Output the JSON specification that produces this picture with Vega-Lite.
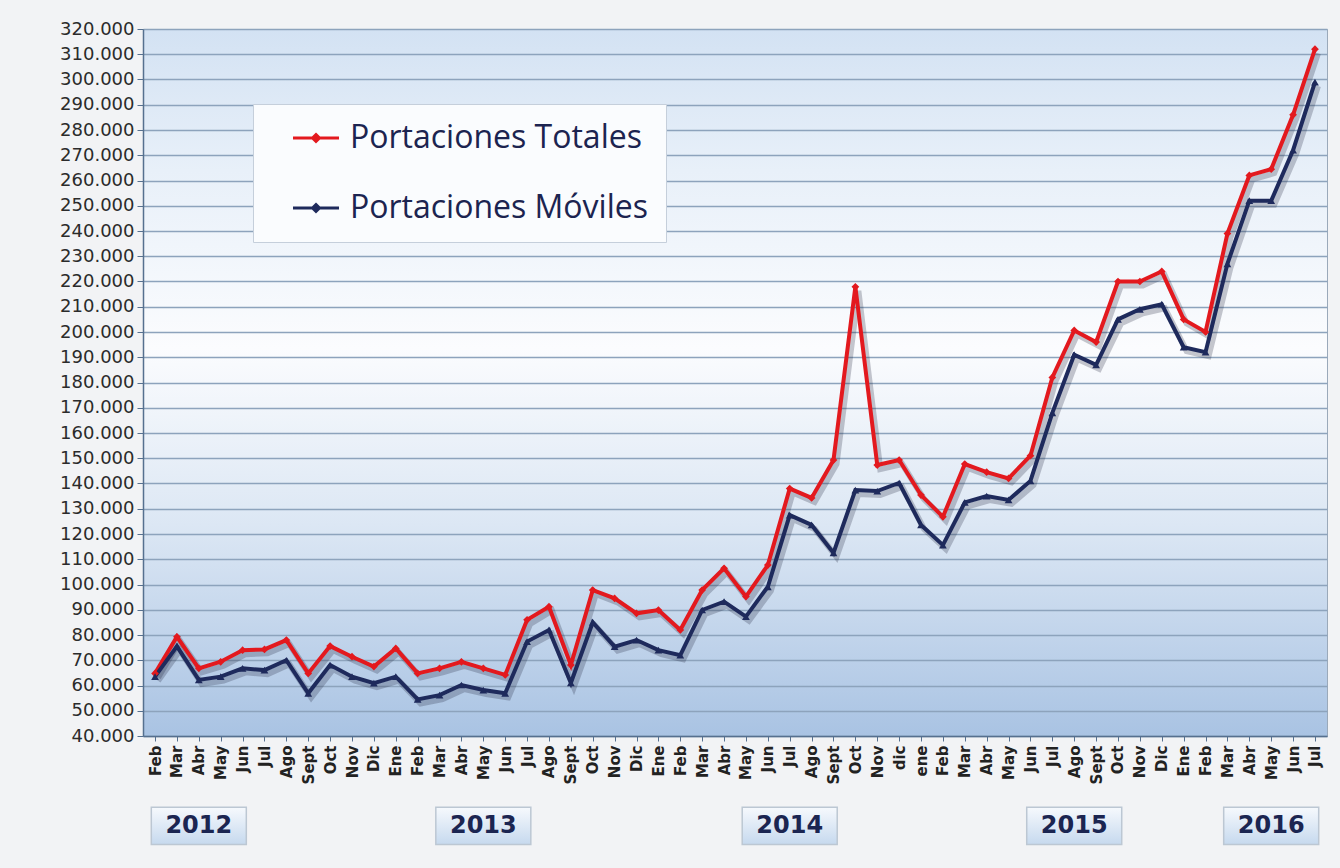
{
  "$schema": "https://vega.github.io/schema/vega-lite/v6.json",
  "autosize": {"type": "none"},
  "width": 1184,
  "height": 707,
  "padding": {"left": 143, "top": 29, "right": 13, "bottom": 132},
  "background": "#f2f3f5",
  "config": {
    "font": "DejaVu Sans",
    "view": {
      "stroke": "#9aa9ba",
      "strokeWidth": 1,
      "fill": {
        "gradient": "linear", "x1": 0, "y1": 0, "x2": 0, "y2": 1,
        "stops": [
          {"offset": 0, "color": "#d3e2f3"},
          {"offset": 0.2, "color": "#e8f0f9"},
          {"offset": 0.45, "color": "#fbfcfe"},
          {"offset": 0.7, "color": "#dce7f4"},
          {"offset": 1, "color": "#a9c3e3"}
        ]
      }
    },
    "axisY": {
      "tickCount": 28,
      "labelExpr": "replace(format(datum.value, ','), ',', '.')",
      "labelOverlap": false,
      "labelFont": "DejaVu Sans",
      "labelFontSize": 18,
      "labelColor": "#2b2b2b",
      "labelPadding": 3,
      "tickColor": "#56708f",
      "tickSize": 6,
      "domainColor": "#56708f",
      "domainWidth": 1.5,
      "grid": true,
      "gridColor": "#8da3bc",
      "gridWidth": 1.5
    }
  },
  "datasets": {
    "serie": [
      {"k": "Feb 2012", "serie": "Portaciones Totales", "valor": 64800},
      {"k": "Mar 2012", "serie": "Portaciones Totales", "valor": 79300},
      {"k": "Abr 2012", "serie": "Portaciones Totales", "valor": 66800},
      {"k": "May 2012", "serie": "Portaciones Totales", "valor": 69400},
      {"k": "Jun 2012", "serie": "Portaciones Totales", "valor": 74000},
      {"k": "Jul 2012", "serie": "Portaciones Totales", "valor": 74300},
      {"k": "Ago 2012", "serie": "Portaciones Totales", "valor": 78000},
      {"k": "Sept 2012", "serie": "Portaciones Totales", "valor": 64800},
      {"k": "Oct 2012", "serie": "Portaciones Totales", "valor": 75600},
      {"k": "Nov 2012", "serie": "Portaciones Totales", "valor": 71400},
      {"k": "Dic 2012", "serie": "Portaciones Totales", "valor": 67500},
      {"k": "Ene 2013", "serie": "Portaciones Totales", "valor": 74700},
      {"k": "Feb 2013", "serie": "Portaciones Totales", "valor": 64800},
      {"k": "Mar 2013", "serie": "Portaciones Totales", "valor": 66800},
      {"k": "Abr 2013", "serie": "Portaciones Totales", "valor": 69400},
      {"k": "May 2013", "serie": "Portaciones Totales", "valor": 66800},
      {"k": "Jun 2013", "serie": "Portaciones Totales", "valor": 64200},
      {"k": "Jul 2013", "serie": "Portaciones Totales", "valor": 86000},
      {"k": "Ago 2013", "serie": "Portaciones Totales", "valor": 91200},
      {"k": "Sept 2013", "serie": "Portaciones Totales", "valor": 68100},
      {"k": "Oct 2013", "serie": "Portaciones Totales", "valor": 97800},
      {"k": "Nov 2013", "serie": "Portaciones Totales", "valor": 94500},
      {"k": "Dic 2013", "serie": "Portaciones Totales", "valor": 88600},
      {"k": "Ene 2014", "serie": "Portaciones Totales", "valor": 89900},
      {"k": "Feb 2014", "serie": "Portaciones Totales", "valor": 82000},
      {"k": "Mar 2014", "serie": "Portaciones Totales", "valor": 97800},
      {"k": "Abr 2014", "serie": "Portaciones Totales", "valor": 106400},
      {"k": "May 2014", "serie": "Portaciones Totales", "valor": 95200},
      {"k": "Jun 2014", "serie": "Portaciones Totales", "valor": 107700},
      {"k": "Jul 2014", "serie": "Portaciones Totales", "valor": 138000},
      {"k": "Ago 2014", "serie": "Portaciones Totales", "valor": 134300},
      {"k": "Sept 2014", "serie": "Portaciones Totales", "valor": 149300},
      {"k": "Oct 2014", "serie": "Portaciones Totales", "valor": 217900},
      {"k": "Nov 2014", "serie": "Portaciones Totales", "valor": 147300},
      {"k": "dic 2014", "serie": "Portaciones Totales", "valor": 149300},
      {"k": "ene 2015", "serie": "Portaciones Totales", "valor": 135400},
      {"k": "Feb 2015", "serie": "Portaciones Totales", "valor": 126800},
      {"k": "Mar 2015", "serie": "Portaciones Totales", "valor": 147700},
      {"k": "Abr 2015", "serie": "Portaciones Totales", "valor": 144500},
      {"k": "May 2015", "serie": "Portaciones Totales", "valor": 142000},
      {"k": "Jun 2015", "serie": "Portaciones Totales", "valor": 151000},
      {"k": "Jul 2015", "serie": "Portaciones Totales", "valor": 182000},
      {"k": "Ago 2015", "serie": "Portaciones Totales", "valor": 200600},
      {"k": "Sept 2015", "serie": "Portaciones Totales", "valor": 196000},
      {"k": "Oct 2015", "serie": "Portaciones Totales", "valor": 220000},
      {"k": "Nov 2015", "serie": "Portaciones Totales", "valor": 220000},
      {"k": "Dic 2015", "serie": "Portaciones Totales", "valor": 224000},
      {"k": "Ene 2016", "serie": "Portaciones Totales", "valor": 205000},
      {"k": "Feb 2016", "serie": "Portaciones Totales", "valor": 200000},
      {"k": "Mar 2016", "serie": "Portaciones Totales", "valor": 239000},
      {"k": "Abr 2016", "serie": "Portaciones Totales", "valor": 262000},
      {"k": "May 2016", "serie": "Portaciones Totales", "valor": 264500},
      {"k": "Jun 2016", "serie": "Portaciones Totales", "valor": 286000},
      {"k": "Jul 2016", "serie": "Portaciones Totales", "valor": 312000},
      {"k": "Feb 2012", "serie": "Portaciones Móviles", "valor": 63500},
      {"k": "Mar 2012", "serie": "Portaciones Móviles", "valor": 75500},
      {"k": "Abr 2012", "serie": "Portaciones Móviles", "valor": 62200},
      {"k": "May 2012", "serie": "Portaciones Móviles", "valor": 63500},
      {"k": "Jun 2012", "serie": "Portaciones Móviles", "valor": 66800},
      {"k": "Jul 2012", "serie": "Portaciones Móviles", "valor": 66100},
      {"k": "Ago 2012", "serie": "Portaciones Móviles", "valor": 70000},
      {"k": "Sept 2012", "serie": "Portaciones Móviles", "valor": 56900},
      {"k": "Oct 2012", "serie": "Portaciones Móviles", "valor": 68100},
      {"k": "Nov 2012", "serie": "Portaciones Móviles", "valor": 63500},
      {"k": "Dic 2012", "serie": "Portaciones Móviles", "valor": 60900},
      {"k": "Ene 2013", "serie": "Portaciones Móviles", "valor": 63500},
      {"k": "Feb 2013", "serie": "Portaciones Móviles", "valor": 54500},
      {"k": "Mar 2013", "serie": "Portaciones Móviles", "valor": 56200},
      {"k": "Abr 2013", "serie": "Portaciones Móviles", "valor": 60200},
      {"k": "May 2013", "serie": "Portaciones Móviles", "valor": 58200},
      {"k": "Jun 2013", "serie": "Portaciones Móviles", "valor": 56900},
      {"k": "Jul 2013", "serie": "Portaciones Móviles", "valor": 77400},
      {"k": "Ago 2013", "serie": "Portaciones Móviles", "valor": 82000},
      {"k": "Sept 2013", "serie": "Portaciones Móviles", "valor": 61000},
      {"k": "Oct 2013", "serie": "Portaciones Móviles", "valor": 85000},
      {"k": "Nov 2013", "serie": "Portaciones Móviles", "valor": 75400},
      {"k": "Dic 2013", "serie": "Portaciones Móviles", "valor": 78000},
      {"k": "Ene 2014", "serie": "Portaciones Móviles", "valor": 74000},
      {"k": "Feb 2014", "serie": "Portaciones Móviles", "valor": 72000},
      {"k": "Mar 2014", "serie": "Portaciones Móviles", "valor": 89900},
      {"k": "Abr 2014", "serie": "Portaciones Móviles", "valor": 93200},
      {"k": "May 2014", "serie": "Portaciones Móviles", "valor": 87300},
      {"k": "Jun 2014", "serie": "Portaciones Móviles", "valor": 99100},
      {"k": "Jul 2014", "serie": "Portaciones Móviles", "valor": 127500},
      {"k": "Ago 2014", "serie": "Portaciones Móviles", "valor": 123600},
      {"k": "Sept 2014", "serie": "Portaciones Móviles", "valor": 112500},
      {"k": "Oct 2014", "serie": "Portaciones Móviles", "valor": 137400},
      {"k": "Nov 2014", "serie": "Portaciones Móviles", "valor": 137000},
      {"k": "dic 2014", "serie": "Portaciones Móviles", "valor": 140200},
      {"k": "ene 2015", "serie": "Portaciones Móviles", "valor": 123600},
      {"k": "Feb 2015", "serie": "Portaciones Móviles", "valor": 115600},
      {"k": "Mar 2015", "serie": "Portaciones Móviles", "valor": 132500},
      {"k": "Abr 2015", "serie": "Portaciones Móviles", "valor": 135000},
      {"k": "May 2015", "serie": "Portaciones Móviles", "valor": 133500},
      {"k": "Jun 2015", "serie": "Portaciones Móviles", "valor": 141000},
      {"k": "Jul 2015", "serie": "Portaciones Móviles", "valor": 168000},
      {"k": "Ago 2015", "serie": "Portaciones Móviles", "valor": 191000},
      {"k": "Sept 2015", "serie": "Portaciones Móviles", "valor": 187000},
      {"k": "Oct 2015", "serie": "Portaciones Móviles", "valor": 205000},
      {"k": "Nov 2015", "serie": "Portaciones Móviles", "valor": 209000},
      {"k": "Dic 2015", "serie": "Portaciones Móviles", "valor": 211000},
      {"k": "Ene 2016", "serie": "Portaciones Móviles", "valor": 194000},
      {"k": "Feb 2016", "serie": "Portaciones Móviles", "valor": 192000},
      {"k": "Mar 2016", "serie": "Portaciones Móviles", "valor": 227000},
      {"k": "Abr 2016", "serie": "Portaciones Móviles", "valor": 252000},
      {"k": "May 2016", "serie": "Portaciones Móviles", "valor": 252000},
      {"k": "Jun 2016", "serie": "Portaciones Móviles", "valor": 272000},
      {"k": "Jul 2016", "serie": "Portaciones Móviles", "valor": 299000}
    ],
    "anios": [
      {"k": "Abr 2012", "anio": "2012"},
      {"k": "May 2013", "anio": "2013"},
      {"k": "Jul 2014", "anio": "2014"},
      {"k": "Ago 2015", "anio": "2015"},
      {"k": "May 2016", "anio": "2016"}
    ]
  },
  "encoding": {
    "x": {
      "field": "k", "type": "nominal",
      "scale": {
        "type": "point", "padding": 0.55,
        "domain": ["Feb 2012","Mar 2012","Abr 2012","May 2012","Jun 2012","Jul 2012","Ago 2012","Sept 2012","Oct 2012","Nov 2012","Dic 2012",
                   "Ene 2013","Feb 2013","Mar 2013","Abr 2013","May 2013","Jun 2013","Jul 2013","Ago 2013","Sept 2013","Oct 2013","Nov 2013","Dic 2013",
                   "Ene 2014","Feb 2014","Mar 2014","Abr 2014","May 2014","Jun 2014","Jul 2014","Ago 2014","Sept 2014","Oct 2014","Nov 2014","dic 2014",
                   "ene 2015","Feb 2015","Mar 2015","Abr 2015","May 2015","Jun 2015","Jul 2015","Ago 2015","Sept 2015","Oct 2015","Nov 2015","Dic 2015",
                   "Ene 2016","Feb 2016","Mar 2016","Abr 2016","May 2016","Jun 2016","Jul 2016"]
      },
      "axis": {
        "title": null,
        "labelExpr": "split(datum.value, ' ')[0]",
        "labelAngle": 270,
        "labelFont": "DejaVu Sans",
        "labelFontWeight": "bold",
        "labelFontSize": 15,
        "labelColor": "#222222",
        "labelPadding": 4,
        "tickColor": "#56708f",
        "tickSize": 5,
        "domainColor": "#56708f",
        "domainWidth": 1.5,
        "grid": false
      }
    }
  },
  "layer": [
    {
      "data": {"name": "serie"},
      "mark": {"type": "line", "color": "#20243a", "opacity": 0.25, "strokeWidth": 6, "xOffset": 3, "yOffset": 4},
      "encoding": {
        "y": {
          "field": "valor", "type": "quantitative", "title": null,
          "scale": {"domain": [40000, 320000], "zero": false, "nice": false}
        },
        "detail": {"field": "serie", "type": "nominal"}
      }
    },
    {
      "data": {"name": "serie"},
      "mark": {"type": "line", "strokeWidth": 4},
      "encoding": {
        "y": {"field": "valor", "type": "quantitative", "title": null},
        "color": {
          "field": "serie", "type": "nominal",
          "scale": {"domain": ["Portaciones Totales", "Portaciones Móviles"], "range": ["#e3191e", "#1e2a5c"]},
          "legend": {
            "orient": "none",
            "legendX": 110,
            "legendY": 75,
            "title": null,
            "labelFont": "Open Sans",
            "labelFontSize": 32,
            "labelLimit": 600,
            "labelColor": "#1c2450",
            "labelOffset": 18,
            "symbolType": "M-2,0L2,0M0,-0.3L0.3,0L0,0.3L-0.3,0Z",
            "symbolSize": 529,
            "symbolStrokeWidth": 3,
            "symbolOffset": 29,
            "rowPadding": 38,
            "padding": 18,
            "fillColor": "#fafcfe",
            "strokeColor": "#c5cfdb"
          }
        }
      }
    },
    {
      "data": {"name": "serie"},
      "transform": [{"filter": "datum.serie == 'Portaciones Totales'"}],
      "mark": {"type": "point", "filled": true, "size": 60, "opacity": 1, "shape": "diamond", "color": "#e3191e"},
      "encoding": {"y": {"field": "valor", "type": "quantitative", "title": null}}
    },
    {
      "data": {"name": "serie"},
      "transform": [{"filter": "datum.serie == 'Portaciones Móviles'"}],
      "mark": {"type": "point", "filled": true, "size": 60, "opacity": 1, "shape": "triangle-up", "color": "#1e2a5c"},
      "encoding": {"y": {"field": "valor", "type": "quantitative", "title": null}}
    },
    {
      "data": {"name": "anios"},
      "mark": {
        "type": "point", "filled": true, "size": 9025, "opacity": 1,
        "shape": "M-1,-0.39L1,-0.39L1,0.39L-1,0.39Z",
        "stroke": "#bcc7d3", "strokeWidth": 1.5,
        "fill": {
          "gradient": "linear", "x1": 0, "y1": 0, "x2": 0, "y2": 1,
          "stops": [
            {"offset": 0, "color": "#f6f9fd"},
            {"offset": 1, "color": "#c6d9ee"}
          ]
        }
      },
      "encoding": {
        "y": {"datum": 4400}
      }
    },
    {
      "data": {"name": "anios"},
      "mark": {"type": "text", "font": "DejaVu Sans", "fontWeight": "bold", "fontSize": 24, "color": "#1b2551", "baseline": "middle", "align": "center"},
      "encoding": {
        "y": {"datum": 4400},
        "text": {"field": "anio", "type": "nominal"}
      }
    }
  ]
}
